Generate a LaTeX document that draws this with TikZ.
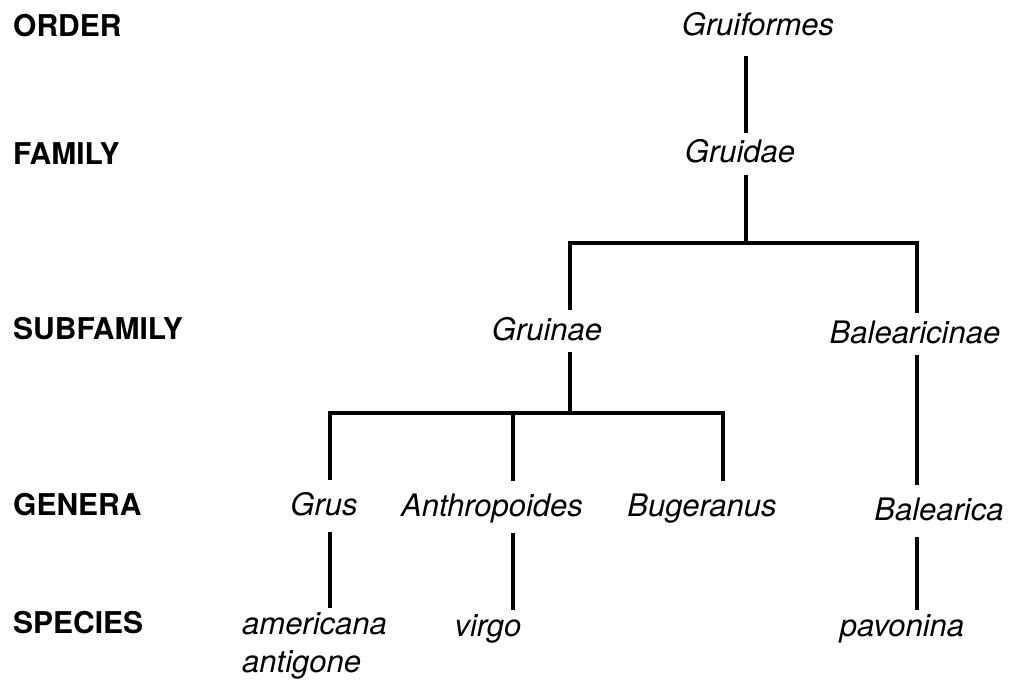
\documentclass[tikz,border=0pt]{standalone}
\usepackage{fontspec}
\setmainfont{TeX Gyre Heros}

\begin{document}
\begin{tikzpicture}[
    x=1pt, y=-1pt,
    rank/.style={anchor=base west, inner sep=0pt,
                 font=\fontsize{30}{36}\selectfont\bfseries},
    taxon/.style={anchor=base, text height=21pt, text depth=3pt,
                  inner xsep=2pt, inner ysep=9pt,
                  font=\fontsize{31}{36}\selectfont\itshape},
    genus/.style={taxon, inner ysep=14pt},
    sp/.style={taxon, inner ysep=5pt},
    link/.style={line width=3.2pt, black},
]
    \useasboundingbox (0,0) rectangle (1010,690);

    \node[rank] (order) at (13,37) {ORDER};
    \node[rank] (family) at (13,165) {FAMILY};
    \node[rank] (subfamily) at (13,339) {SUBFAMILY};
    \node[rank] (genera) at (13,515) {GENERA};
    \node[rank] (species) at (13,633) {SPECIES};

    \node[taxon] (gruiformes) at (758,36) {Gruiformes};
    \node[taxon] (gruidae) at (740,163) {Gruidae};
    \node[taxon] (gruinae) at (547,340) {Gruinae};
    \node[taxon] (balearicinae) at (915,343) {Balearicinae};

    \node[genus] (grus) at (324,515) {Grus};
    \node[genus] (anthropoides) at (492,516) {Anthropoides};
    \node[genus] (bugeranus) at (702,516) {Bugeranus};
    \node[genus] (balearica) at (939,520) {Balearica};

    \node[sp, anchor=base west] (americana) at (240,634) {americana};
    \node[sp, anchor=base west] (antigone) at (240,672) {antigone};
    \node[sp] (virgo) at (488,636) {virgo};
    \node[sp] (pavonina) at (902,636) {pavonina};

    \coordinate (jfam) at (746,243);
    \coordinate (cbal) at (917,243);
    \coordinate (jsub) at (570,413);
    \coordinate (cgrus) at (330,413);
    \coordinate (cant) at (513,413);
    \coordinate (cbug) at (723,413);

    \draw[link, shorten <=8pt] (gruiformes.south -| jfam) -- (gruidae.north -| jfam);
    \draw[link] (gruidae.south -| jfam) -- (jfam);
    \draw[link] (gruinae.north -| jsub) |- (cbal) -- (balearicinae.north -| cbal);
    \draw[link] (gruinae.south -| jsub) -- (jsub);
    \draw[link] (grus.north -| cgrus) |- (cbug) -- (bugeranus.north -| cbug);
    \draw[link] (cant) -- (anthropoides.north -| cant);
    \draw[link] (balearicinae.south -| cbal) -- (balearica.north -| cbal);

    \draw[link] (grus.south -| cgrus) -- (americana.north -| cgrus);
    \draw[link] (anthropoides.south -| cant) -- (virgo.north -| cant);
    \draw[link] (balearica.south -| cbal) -- (pavonina.north -| cbal);
\end{tikzpicture}
\end{document}
